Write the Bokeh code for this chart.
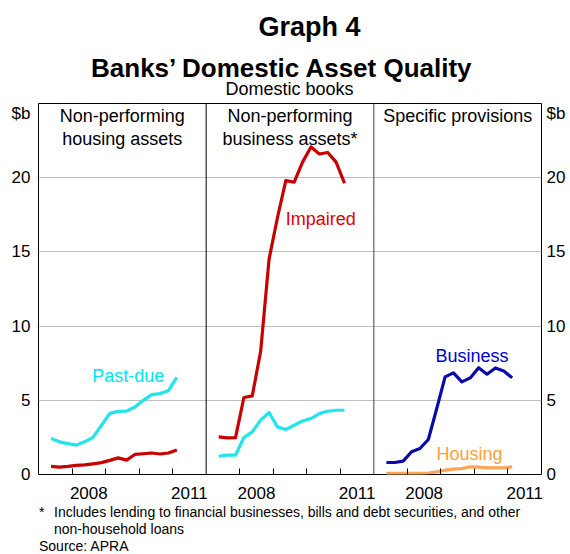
from bokeh.plotting import figure
from bokeh.layouts import column
from bokeh.models import Range1d, LinearAxis, FixedTicker, Span, Label
from bokeh.embed import file_html
from bokeh.resources import INLINE

# ---------------- data (quarterly, $b) ----------------
dates = [2007.375, 2007.625, 2007.875, 2008.125, 2008.375, 2008.625, 2008.875, 2009.125,
         2009.375, 2009.625, 2009.875, 2010.125, 2010.375, 2010.625, 2010.875, 2011.125]

housing_past_due = [2.42, 2.2, 2.08, 1.98, 2.2, 2.5, 3.3, 4.12, 4.25, 4.27, 4.55, 5.0,
                    5.38, 5.45, 5.65, 6.55]
housing_impaired = [0.55, 0.5, 0.55, 0.62, 0.65, 0.72, 0.8, 0.95, 1.12, 0.97, 1.35, 1.4,
                    1.45, 1.38, 1.45, 1.65]
business_past_due = [1.23, 1.3, 1.3, 2.49, 2.87, 3.66, 4.18, 3.21, 3.03, 3.32, 3.61, 3.77,
                     4.1, 4.26, 4.33, 4.33]
business_impaired = [2.54, 2.47, 2.49, 5.19, 5.3, 8.3, 14.5, 17.3, 19.8, 19.7, 21.05, 22.07,
                     21.6, 21.7, 21.05, 19.64]
provisions_business = [0.81, 0.81, 0.9, 1.53, 1.75, 2.36, 4.44, 6.58, 6.85, 6.24, 6.51, 7.2,
                       6.76, 7.18, 6.98, 6.51]
provisions_housing = [0.07, 0.07, 0.07, 0.08, 0.08, 0.1, 0.18, 0.29, 0.36, 0.4, 0.52, 0.5,
                      0.45, 0.45, 0.45, 0.52]

graph_number = "Graph 4"
chart_title = "Banks’ Domestic Asset Quality"
chart_subtitle = "Domestic books"
panel_titles = [["Non-performing", "housing assets"],
                ["Non-performing", "business assets*"],
                ["Specific provisions"]]
series_labels = ["Past-due", "Impaired", "Business", "Housing"]
year_labels = ["2008", "2011"]
y_ticks = [0, 5, 10, 15, 20]
unit_label = "$b"
footnote_mark = "*"
footnote_lines = ["Includes lending to financial businesses, bills and debt securities, and other",
                  "non-household loans"]
source_text = "Source: APRA"

start_year = 2007
years_per_panel = 5
n_panels = 3

FONT = "Liberation Sans"
W = 570
LEFT, RIGHT = 38, 29          # page-pixel borders around the plotting frame
TOP_H = 103
MAIN_H = 401
FOOT_H = 554 - TOP_H - MAIN_H


def px(panel, ds):
    return [d - start_year + panel * years_per_panel for d in ds]


def add_label(fig, x, y, text, size, color="black", align="left", style="normal"):
    fig.add_layout(Label(x=x, y=y, text=text, text_font=FONT, text_font_size=size,
                         text_color=color, text_align=align, text_baseline="middle",
                         text_font_style=style))


def blank_fig(height, y0, y1):
    # ranges expressed in page pixels so the text blocks line up with the chart
    f = figure(width=W, height=height, title=None, x_range=Range1d(LEFT, W - RIGHT),
               y_range=Range1d(y1, y0), output_backend="svg", toolbar_location=None,
               x_axis_location=None, y_axis_location=None,
               min_border_left=LEFT, min_border_right=RIGHT, min_border_top=0, min_border_bottom=0)
    f.outline_line_color = None
    f.xgrid.visible = False
    f.ygrid.visible = False
    f.background_fill_color = "white"
    f.border_fill_color = "white"
    return f


# ---------------- title block ----------------
top = blank_fig(TOP_H, 0, TOP_H)
add_label(top, 309, 26.5, graph_number, "27px", align="center", style="bold")
add_label(top, 282, 67, chart_title, "26px", align="center", style="bold")
add_label(top, 289, 88.3, chart_subtitle, "18px", align="center")

# ---------------- main chart ----------------
p = figure(width=W, height=MAIN_H, title=None,
           x_range=Range1d(0, n_panels * years_per_panel), y_range=Range1d(0, 25),
           output_backend="svg", toolbar_location=None,
           min_border_left=LEFT, min_border_right=RIGHT, min_border_top=0, min_border_bottom=30)
p.background_fill_color = "white"
p.border_fill_color = "white"
p.outline_line_color = "black"
p.outline_line_width = 1
p.xgrid.visible = False
p.ygrid.ticker = FixedTicker(ticks=y_ticks)
p.ygrid.grid_line_color = "#BEBEBE"
p.ygrid.grid_line_width = 1

# x axis: year labels at mid-year, tick marks at year boundaries
label_pos, overrides, boundaries = [], {}, []
for k in range(n_panels):
    base = k * years_per_panel
    for lab in year_labels:
        pos = base + (int(lab) - start_year) + 0.5
        label_pos.append(pos)
        overrides[pos] = lab
    for b in range(1, years_per_panel):
        boundaries.append(base + b)

xa = p.xaxis[0]
xa.ticker = FixedTicker(ticks=label_pos, minor_ticks=boundaries)
xa.major_label_overrides = overrides
xa.major_tick_in = 0
xa.major_tick_out = 0
xa.minor_tick_in = 6
xa.minor_tick_out = 0
xa.minor_tick_line_color = "black"
xa.axis_line_color = None
xa.major_label_standoff = 12
xa.major_label_text_font = FONT
xa.major_label_text_font_size = "17px"
xa.major_label_text_color = "black"

unit_pos = 24.37
y_axis_ticks = y_ticks + [unit_pos]
y_overrides = {unit_pos: unit_label}

ya = p.yaxis[0]
ya.ticker = FixedTicker(ticks=y_axis_ticks)
ya.major_label_overrides = y_overrides
ya.major_tick_in = 0
ya.major_tick_out = 0
ya.minor_tick_line_color = None
ya.axis_line_color = None
ya.major_label_standoff = 8
ya.major_label_text_font = FONT
ya.major_label_text_font_size = "17px"
ya.major_label_text_color = "black"

yr = LinearAxis(ticker=FixedTicker(ticks=y_axis_ticks), major_label_overrides=y_overrides,
                major_tick_in=0, major_tick_out=0,
                minor_tick_line_color=None, axis_line_color=None, major_label_standoff=5,
                major_label_text_font=FONT, major_label_text_font_size="17px",
                major_label_text_color="black")
p.add_layout(yr, "right")

# panel separators
p.add_layout(Span(location=years_per_panel, dimension="height", line_color="black", line_width=1))
p.add_layout(Span(location=2 * years_per_panel, dimension="height", line_color="#444444", line_width=1))

# series
RED, CYAN, BLUE, ORANGE = "#C80000", "#22E4EC", "#0A0AAA", "#F9A55A"
p.line(px(0, dates), housing_past_due, line_color=CYAN, line_width=3.2, line_join="round")
p.line(px(0, dates), housing_impaired, line_color=RED, line_width=3.2, line_join="round")
p.line(px(1, dates), business_past_due, line_color=CYAN, line_width=3.2, line_join="round")
p.line(px(1, dates), business_impaired, line_color=RED, line_width=3.2, line_join="round")
p.line(px(2, dates), provisions_housing, line_color=ORANGE, line_width=3.2, line_join="round")
p.line(px(2, dates), provisions_business, line_color=BLUE, line_width=3.2, line_join="round")

# panel titles
for k, lines in enumerate(panel_titles):
    cx = k * years_per_panel + years_per_panel / 2
    for j, t in enumerate(lines):
        add_label(p, cx, 24.16 - j * 1.57, t, "18px", align="center")

# series labels
add_label(p, 1.6, 6.64, series_labels[0], "18px", color="#00E5F0")
add_label(p, 7.37, 17.2, series_labels[1], "18px", color="#E00000")
add_label(p, 11.84, 7.99, series_labels[2], "18px", color="#0000CC")
add_label(p, 11.87, 1.38, series_labels[3], "18px", color="#FFA040")

# ---------------- footnotes ----------------
y_foot0 = TOP_H + MAIN_H
foot = blank_fig(FOOT_H, y_foot0, 554)
add_label(foot, 38.5, 511.5, footnote_mark, "14px")
add_label(foot, 53.5, 511.5, footnote_lines[0], "14px")
add_label(foot, 53.5, 528.5, footnote_lines[1], "14px")
add_label(foot, 38.5, 545.5, source_text, "14px")

layout = column(top, p, foot, spacing=0)
open("out.html", "w").write(file_html(layout, INLINE))
